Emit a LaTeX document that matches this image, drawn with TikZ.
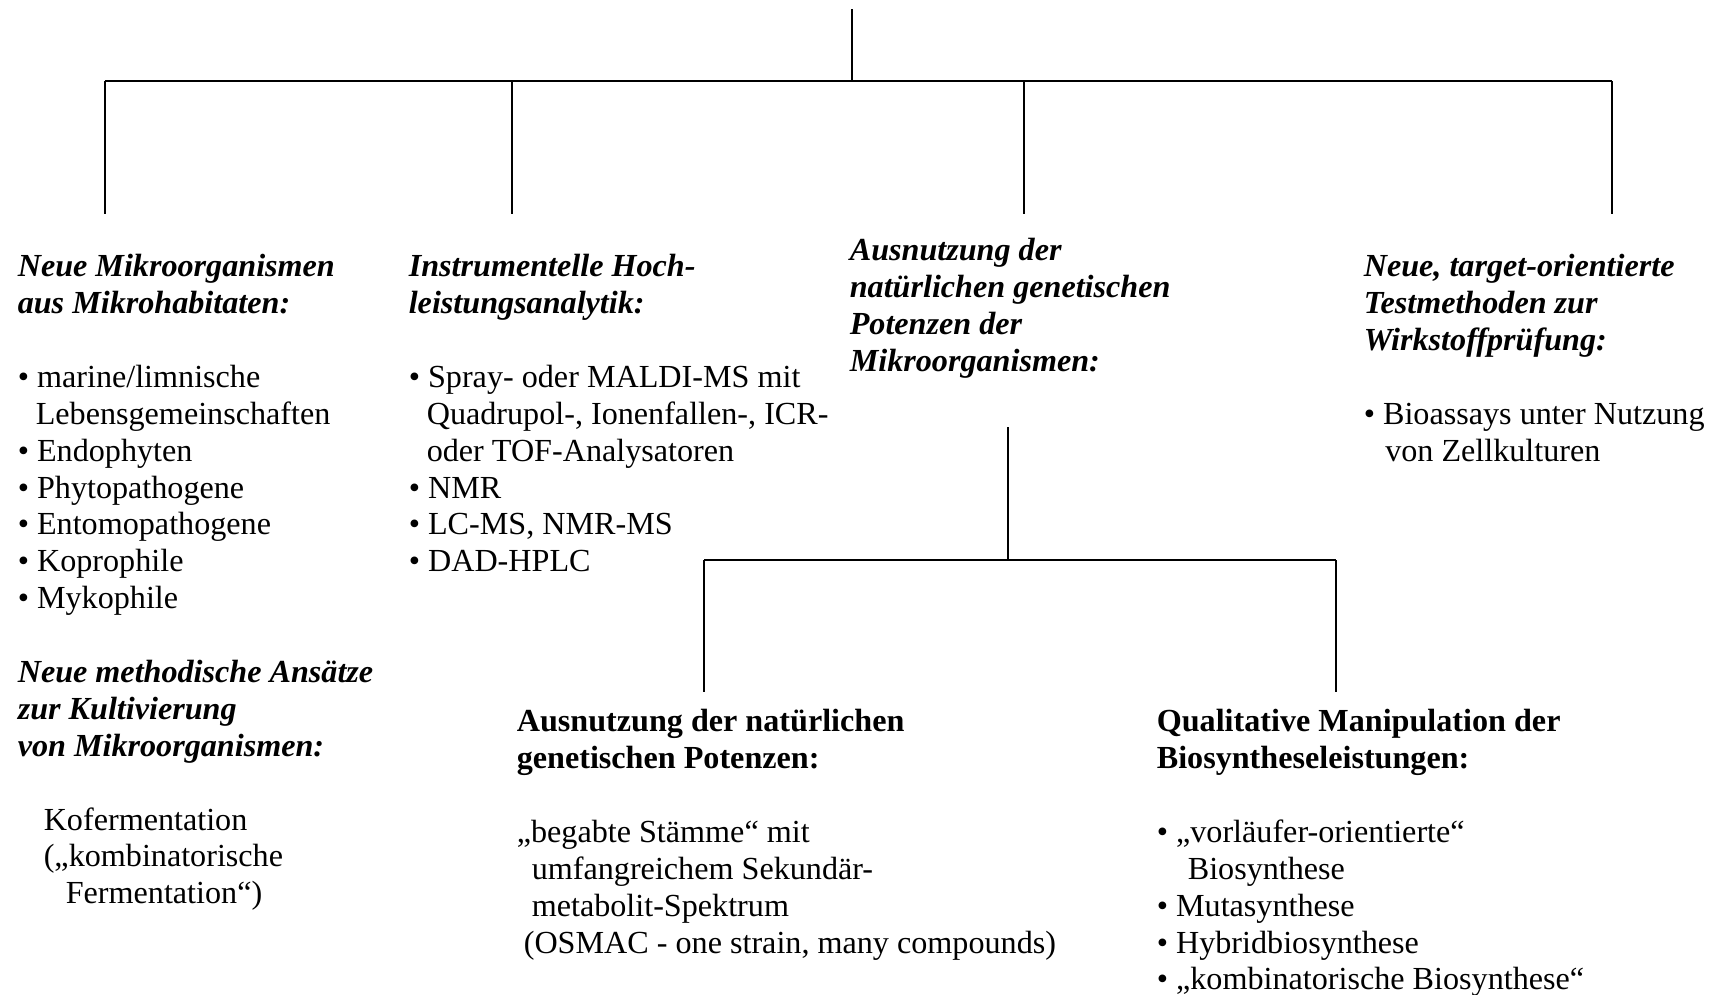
\documentclass[tikz,border=0pt]{standalone}
\usepackage{fontspec}
\setmainfont{Liberation Serif}
\newcommand\hd[1]{\textbf{\textit{#1}}}
\newcommand\bul{\textbullet\ }

\begin{document}
\begin{tikzpicture}[x=0.02cm,y=-0.02cm,line width=0.9pt,
  txt/.style={anchor=north west,inner sep=0pt,align=left,font=\fontsize{18.3}{21}\selectfont}]
\useasboundingbox (0,0) rectangle (1719,994);
% upper tree
\coordinate (root) at (852,9);
\coordinate (hub) at (852,81);
\foreach \i/\x in {1/105,2/512,3/1024,4/1612}{
  \coordinate (k\i) at (\x,81);
  \coordinate (e\i) at (\x,214);
}
\draw (root)--(hub)(k1)--(k4);
\foreach \i in {1,...,4} \draw (k\i)--(e\i);
% lower tree
\coordinate (sub) at (1008,427);
\coordinate (subhub) at (1008,560);
\coordinate (s1) at (704,560);
\coordinate (s2) at (1336,560);
\coordinate (t1) at (704,692);
\coordinate (t2) at (1336,692);
\draw (sub)--(subhub)(s1)--(s2)(s1)--(t1)(s2)--(t2);
% texts
\node[txt] (mikro) at (17,250) {\strut\hd{Neue Mikroorganismen}\\
  \hd{aus Mikrohabitaten:}\\[21pt]
  \bul marine/limnische\\
  \hspace*{0.36cm}Lebensgemeinschaften\\
  \bul Endophyten\\
  \bul Phytopathogene\\
  \bul Entomopathogene\\
  \bul Koprophile\\
  \bul Mykophile\\[21pt]
  \hd{Neue methodische Ansätze}\\
  \hd{zur Kultivierung}\\
  \hd{von Mikroorganismen:}\\[21pt]
  \hspace*{0.52cm}Kofermentation\\
  \hspace*{0.52cm}(„kombinatorische\\
  \hspace*{0.96cm}Fermentation“)};
\node[txt] (analytik) at (408,250) {\strut\hd{Instrumentelle Hoch-}\\
  \hd{leistungsanalytik:}\\[21pt]
  \bul Spray- oder MALDI-MS mit\\
  \hspace*{0.36cm}Quadrupol-, Ionenfallen-, ICR-\\
  \hspace*{0.36cm}oder TOF-Analysatoren\\
  \bul NMR\\
  \bul LC-MS, NMR-MS\\
  \bul DAD-HPLC};
\node[txt] (potenz) at (849,234) {\strut\hd{Ausnutzung der}\\
  \hd{natürlichen genetischen}\\
  \hd{Potenzen der}\\
  \hd{Mikroorganismen:}};
\node[txt] (test) at (1363,250) {\strut\hd{Neue, target-orientierte}\\
  \hd{Testmethoden zur}\\
  \hd{Wirkstoffprüfung:}\\[21pt]
  \bul Bioassays unter Nutzung\\
  \hspace*{0.43cm}von Zellkulturen};
\node[txt] (natur) at (516,705) {\strut\textbf{Ausnutzung der natürlichen}\\
  \textbf{genetischen Potenzen:}\\[21pt]
  „begabte Stämme“ mit\\
  \hspace*{0.30cm}umfangreichem Sekundär-\\
  \hspace*{0.30cm}metabolit-Spektrum\\
  \hspace*{0.14cm}(OSMAC - one strain, many compounds)};
\node[txt] (manip) at (1156,705) {\strut\textbf{Qualitative Manipulation der}\\
  \textbf{Biosyntheseleistungen:}\\[21pt]
  \bul „vorläufer-orientierte“\\
  \hspace*{0.62cm}Biosynthese\\
  \bul Mutasynthese\\
  \bul Hybridbiosynthese\\
  \bul „kombinatorische Biosynthese“};
\end{tikzpicture}
\end{document}
